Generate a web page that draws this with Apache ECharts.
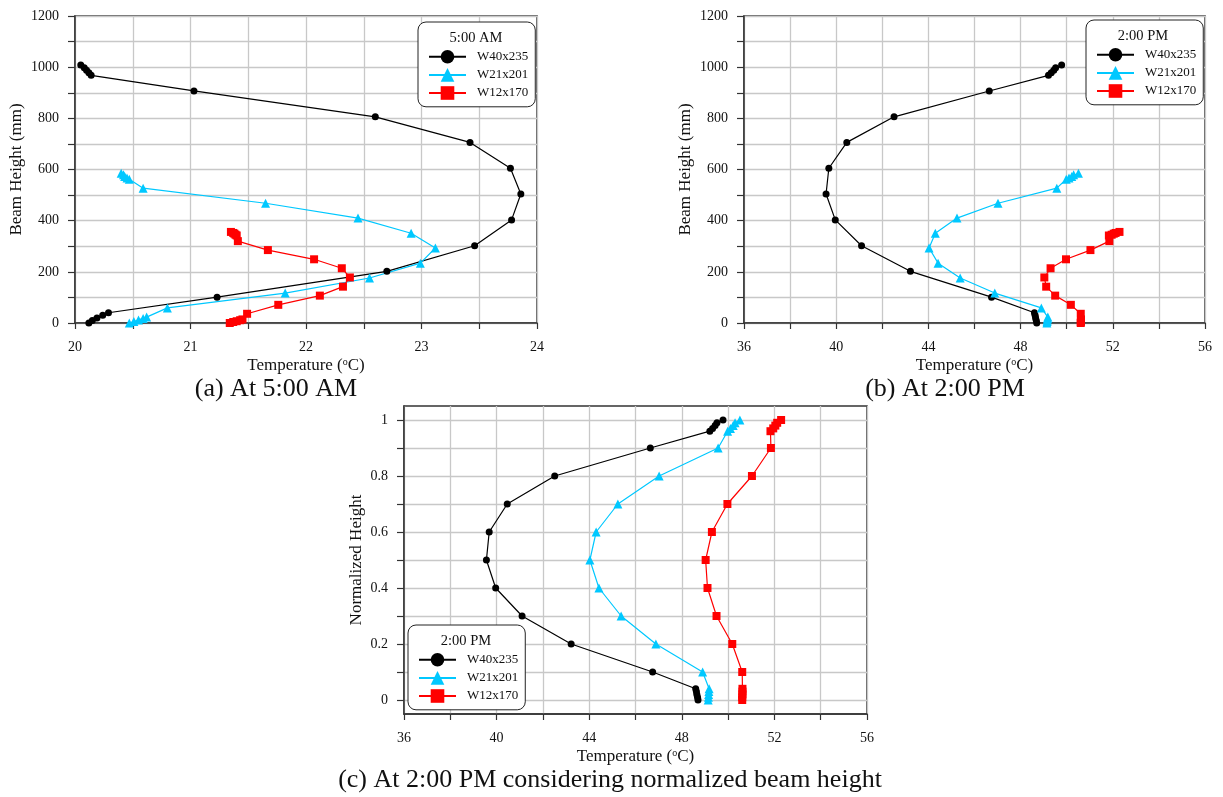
<!DOCTYPE html>
<html><head><meta charset="utf-8">
<script src="https://cdn.jsdelivr.net/npm/echarts@6/dist/echarts.min.js"></script>
<style>html,body{margin:0;padding:0;background:#fff}#c{width:1223px;height:797px}</style>
</head><body><div id="c"></div>
<script>
// ---------- data ----------
const seriesNames = ['W40x235', 'W21x201', 'W12x170'];

// beam heights (mm) of the measuring points
const heightW40 = [0, 10, 20, 30, 40, 101, 202, 302, 403, 504, 605, 706, 806, 907, 968, 978, 988, 998, 1008];
const heightW21 = [0, 6, 12, 18, 23, 59, 117, 176, 234, 293, 351, 410, 468, 527, 562, 567, 573, 579, 585];
const heightW12 = [0, 4, 7, 11, 14, 36, 71, 107, 142, 178, 214, 249, 285, 320, 342, 345, 349, 352, 356];
// normalized heights (panel c)
const normHeight = [0, 0.01, 0.02, 0.03, 0.04, 0.1, 0.2, 0.3, 0.4, 0.5, 0.6, 0.7, 0.8, 0.9, 0.96, 0.97, 0.98, 0.99, 1];

// temperatures at 5:00 AM (°C)
const tempAM_W40 = [20.12, 20.15, 20.19, 20.24, 20.29, 21.23, 22.70, 23.46, 23.78, 23.86, 23.77, 23.42, 22.60, 21.03, 20.14, 20.12, 20.10, 20.08, 20.05];
const tempAM_W21 = [20.47, 20.51, 20.55, 20.59, 20.62, 20.80, 21.82, 22.55, 22.99, 23.12, 22.91, 22.45, 21.65, 20.59, 20.47, 20.45, 20.43, 20.42, 20.40];
const tempAM_W12 = [21.34, 21.37, 21.40, 21.43, 21.45, 21.49, 21.76, 22.12, 22.32, 22.38, 22.31, 22.07, 21.67, 21.41, 21.40, 21.39, 21.38, 21.37, 21.35];

// temperatures at 2:00 PM (°C)
const tempPM_W40 = [48.70, 48.68, 48.65, 48.63, 48.60, 46.74, 43.22, 41.10, 39.96, 39.56, 39.68, 40.46, 42.51, 46.64, 49.21, 49.33, 49.44, 49.52, 49.78];
const tempPM_W21 = [49.14, 49.15, 49.16, 49.17, 49.18, 48.90, 46.88, 45.38, 44.42, 44.03, 44.30, 45.24, 47.02, 49.57, 49.98, 50.10, 50.22, 50.30, 50.51];
const tempPM_W12 = [50.61, 50.61, 50.62, 50.62, 50.62, 50.61, 50.18, 49.50, 49.11, 49.03, 49.30, 49.97, 51.03, 51.85, 51.83, 51.95, 52.04, 52.12, 52.29];

// tick labels
const tickTempAM = [20, 21, 22, 23, 24];
const tickTempPM = [36, 40, 44, 48, 52, 56];
const tickHeight = [0, 200, 400, 600, 800, 1000, 1200];
const tickNorm = [0, 0.2, 0.4, 0.6, 0.8, 1];
const gridNorm = [0, 0.1, 0.2, 0.3, 0.4, 0.5, 0.6, 0.7, 0.8, 0.9, 1];

// ---------- styles ----------
const FONT = "'Liberation Serif','Times New Roman',serif";
const COLORS = ['#000000', '#00C8FF', '#FF0000'];
const SYMBOLS = ['circle', 'triangle', 'rect'];
const SIZES = [7, 9, 8];

function pairs(xs, ys) { return xs.map((x, i) => [x, ys[i]]); }
const plain = v => String(v);

function xAxisCfg(gi, min, max, interval, labels) {
  return {
    gridIndex: gi, type: 'value', min: min, max: max, interval: interval,
    name: 'Temperature ({s|o}C)', nameLocation: 'middle', nameGap: 34,
    nameTextStyle: {
      fontFamily: FONT, fontSize: 17, color: '#111',
      rich: { s: { fontFamily: FONT, fontSize: 10, color: '#111', verticalAlign: 'top' } }
    },
    axisLine: { show: true, onZero: false, lineStyle: { color: '#333', width: 1.5 } },
    axisTick: { show: true, length: 6, lineStyle: { color: '#333', width: 1.2 } },
    axisLabel: { customValues: labels, formatter: plain, margin: 17, fontFamily: FONT, fontSize: 14, color: '#111' },
    splitLine: { show: true, lineStyle: { color: '#c8c8c8', width: 1.3 } }
  };
}
function yAxisCfg(gi, name, gap, min, max, interval, labels, tickVals) {
  const a = {
    gridIndex: gi, type: 'value', min: min, max: max,
    name: name, nameLocation: 'middle', nameGap: gap,
    nameTextStyle: { fontFamily: FONT, fontSize: 17, color: '#111' },
    axisLine: { show: true, onZero: false, lineStyle: { color: '#333', width: 1.5 } },
    axisTick: { show: true, length: 7, lineStyle: { color: '#333', width: 1.2 } },
    axisLabel: { customValues: labels, formatter: plain, margin: 16, fontFamily: FONT, fontSize: 14, color: '#111' },
    splitLine: { show: true, lineStyle: { color: '#c8c8c8', width: 1.3 } }
  };
  if (interval) a.interval = interval;
  if (tickVals) a.axisTick.customValues = tickVals;
  return a;
}

const panels = [
  { temps: [tempAM_W40, tempAM_W21, tempAM_W12], heights: [heightW40, heightW21, heightW12] },
  { temps: [tempPM_W40, tempPM_W21, tempPM_W12], heights: [heightW40, heightW21, heightW12] },
  { temps: [tempPM_W40, tempPM_W21, tempPM_W12], heights: [normHeight, normHeight, normHeight] }
];

const series = [];
panels.forEach((p, gi) => {
  seriesNames.forEach((nm, k) => {
    series.push({
      name: nm, type: 'line', xAxisIndex: gi, yAxisIndex: gi,
      data: pairs(p.temps[k], p.heights[k]),
      symbol: SYMBOLS[k], symbolSize: SIZES[k], showSymbol: true,
      lineStyle: { color: COLORS[k], width: 1.2 },
      itemStyle: { color: COLORS[k] },
      animation: false, z: 3
    });
  });
});

function legendCfg(left, top) {
  return {
    data: seriesNames, orient: 'vertical', left: left, top: top,
    itemWidth: 37, itemHeight: 17, itemGap: 4.5,
    padding: [28, 7, 7, 10],
    backgroundColor: '#fff', borderColor: '#222', borderWidth: 1, borderRadius: 8,
    selectedMode: false,
    textStyle: { fontFamily: FONT, fontSize: 13, color: '#111', padding: [0, 0, 0, 6] }
  };
}
function txt(x, y, s, size) {
  return { type: 'text', x: x, y: y, z: 100,
    style: { text: s, fill: '#111', font: size + 'px ' + FONT, textAlign: 'center', textVerticalAlign: 'middle' } };
}

const option = {
  backgroundColor: '#fff',
  animation: false,
  grid: [
    { left: 75, top: 16, width: 462, height: 307, show: true, borderColor: '#333', borderWidth: 1.5, backgroundColor: 'transparent' },
    { left: 744, top: 16, width: 461, height: 307, show: true, borderColor: '#333', borderWidth: 1.5, backgroundColor: 'transparent' },
    { left: 404, top: 406, width: 463, height: 308, show: true, borderColor: '#333', borderWidth: 1.5, backgroundColor: 'transparent' }
  ],
  xAxis: [
    xAxisCfg(0, 20, 24, 0.5, tickTempAM),
    xAxisCfg(1, 36, 56, 2, tickTempPM),
    xAxisCfg(2, 36, 56, 2, tickTempPM)
  ],
  yAxis: [
    yAxisCfg(0, 'Beam Height (mm)', 50, 0, 1200, 100, tickHeight),
    yAxisCfg(1, 'Beam Height (mm)', 50, 0, 1200, 100, tickHeight),
    yAxisCfg(2, 'Normalized Height', 39, -0.05, 1.05, null, tickNorm, gridNorm)
  ],
  legend: [legendCfg(418, 22), legendCfg(1086, 20), legendCfg(408, 625)],
  graphic: [
    txt(476, 38, '5:00 AM', 14.5),
    txt(1143, 36, '2:00 PM', 14.5),
    txt(466, 641, '2:00 PM', 14.5),
    txt(276, 389, '(a) At 5:00 AM', 26),
    txt(945, 389, '(b) At 2:00 PM', 26),
    txt(610, 780, '(c) At 2:00 PM considering normalized beam height', 26)
  ],
  series: series
};

const chart = echarts.init(document.getElementById('c'), null, { renderer: 'canvas' });
chart.setOption(option);
</script>
</body></html>
